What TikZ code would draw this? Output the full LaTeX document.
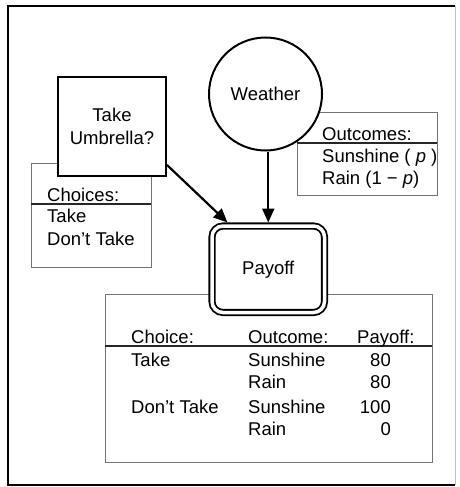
\documentclass[tikz,border=0pt]{standalone}
\usepackage{fontspec}
\setmainfont{Liberation Sans}
\usetikzlibrary{arrows.meta}
\begin{document}
\begin{tikzpicture}[x=1pt,y=-1pt,
  every node/.style={font=\fontsize{18.5}{23}\selectfont},
  mainbox/.style={draw=black, line width=2pt, fill=white},
  notebox/.style={draw=black!55, line width=0.9pt, inner sep=0pt},
  headline/.style={draw=black!85, line width=1.3pt},
  txt/.style={anchor=base west, inner sep=0pt},
  num/.style={anchor=base east, inner sep=0pt},
  arr/.style={line width=2.2pt, -{Triangle[length=14pt,width=12pt]}}]
\useasboundingbox (0,0) rectangle (459,487);
% outer frame
\draw[line width=2.5pt] (455,6) -- (8,6) -- (8,485) -- (455,485);
\draw[black!25, line width=1pt] (455,6) -- (455,485);

% annotation boxes
\node[notebox, minimum width=120, minimum height=104] (chbox) at (91,215) {};
\draw[headline] (chbox.west |- 0,204) -- (chbox.east |- 0,204);
\node[notebox, minimum width=140, minimum height=83] (outbox) at (367,153.5) {};
\draw[headline] (outbox.west |- 0,143) -- (outbox.east |- 0,143);
\node[notebox, minimum width=327, minimum height=168] (tabbox) at (268.5,378) {};
\draw[headline] (tabbox.west |- 0,346) -- (tabbox.east |- 0,346);

% main nodes
\node[mainbox, minimum width=108, minimum height=99, align=center] (umb) at (112,126.5) {Take\\Umbrella?};
\node[mainbox, circle, minimum size=113, inner sep=0pt] (wea) at (265.5,94) {Weather};
\node[mainbox, double, double distance=3.5pt, line width=1.8pt, rounded corners=11pt,
      minimum width=112.5, minimum height=86.5, outer sep=3.5pt] (pay) at (268.25,269.25) {Payoff};

% connectors
\draw[arr] (wea.south -| pay.north) -- (pay.north);
\draw[arr] ([yshift=12pt]umb.south east) -- ([xshift=19pt]pay.north west);

% choices
\node[txt] (chh) at (47,201) {Choices:};
\node[txt] (ch1) at (47,222) {Take};
\node[txt] (ch2) at (47,245) {Don’t Take};

% outcomes
\node[txt] (oh) at (322,140) {Outcomes:};
\node[txt] (o1) at (322,162) {Sunshine ( \textit{p} )};
\node[txt] (o2) at (322,184) {Rain (1 − \textit{p})};

% table
\node[txt] (th1) at (131,343) {Choice:};
\node[txt] (th2) at (248,343) {Outcome:};
\node[txt] (th3) at (357,343) {Payoff:};
\node[txt] (c1) at (131,366) {Take};
\node[txt] (c3) at (131,413) {Don’t Take};
\node[txt] (w1) at (248,366) {Sunshine};
\node[txt] (w2) at (248,388) {Rain};
\node[txt] (w3) at (248,413) {Sunshine};
\node[txt] (w4) at (248,435) {Rain};
\node[num] (p1) at (391,366) {80};
\node[num] (p2) at (391,388) {80};
\node[num] (p3) at (391,413) {100};
\node[num] (p4) at (391,435) {0};
\end{tikzpicture}
\end{document}
